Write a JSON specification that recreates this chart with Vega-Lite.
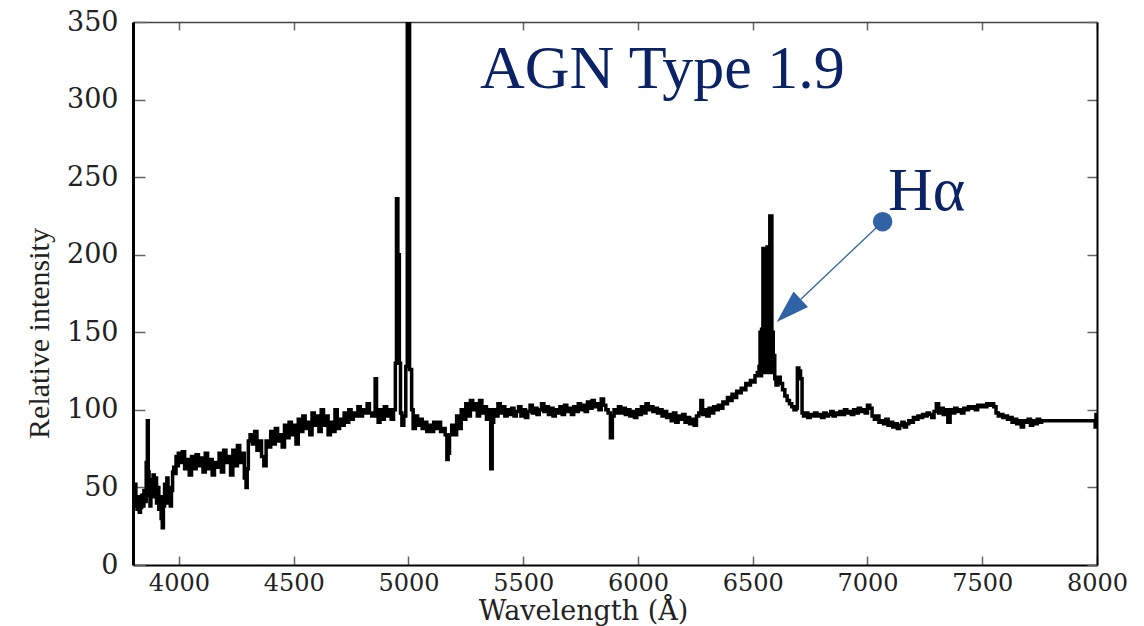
{
  "$schema": "https://vega.github.io/schema/vega-lite/v6.json",
  "width": 964,
  "height": 543,
  "autosize": {"type": "none"},
  "padding": {"left": 133, "top": 22, "right": 47, "bottom": 61},
  "background": "white",
  "config": {"view": {"stroke": null}},
  "datasets": {
    "spec": [
      {"w":3800,"i":48},{"w":3805,"i":40},{"w":3810,"i":52},{"w":3815,"i":38},{"w":3820,"i":36},{"w":3825,"i":44},{"w":3830,"i":34},{"w":3835,"i":37},{"w":3840,"i":45},{"w":3845,"i":38},{"w":3850,"i":48},{"w":3855,"i":41},{"w":3860,"i":66},{"w":3865,"i":93},{"w":3868,"i":60},{"w":3872,"i":45},{"w":3876,"i":38},{"w":3880,"i":55},{"w":3885,"i":44},{"w":3890,"i":58},{"w":3895,"i":48},{"w":3900,"i":56},{"w":3905,"i":40},{"w":3910,"i":50},{"w":3915,"i":36},{"w":3920,"i":44},{"w":3925,"i":30},{"w":3930,"i":24},{"w":3935,"i":38},{"w":3940,"i":52},{"w":3945,"i":40},{"w":3950,"i":56},{"w":3955,"i":42},{"w":3960,"i":50},{"w":3965,"i":38},{"w":3970,"i":48},{"w":3975,"i":60},{"w":3980,"i":63},{"w":3985,"i":59},{"w":3990,"i":70},{"w":3995,"i":64},
      {"w":4000,"i":72},{"w":4010,"i":66},{"w":4020,"i":73},{"w":4030,"i":62},{"w":4040,"i":68},{"w":4050,"i":58},{"w":4060,"i":70},{"w":4070,"i":62},{"w":4080,"i":71},{"w":4090,"i":64},{"w":4100,"i":69},{"w":4110,"i":60},{"w":4120,"i":72},{"w":4130,"i":62},{"w":4140,"i":68},{"w":4150,"i":58},{"w":4160,"i":66},{"w":4170,"i":63},{"w":4180,"i":72},{"w":4190,"i":60},{"w":4200,"i":74},{"w":4210,"i":66},{"w":4220,"i":70},{"w":4230,"i":58},{"w":4240,"i":74},{"w":4250,"i":64},{"w":4260,"i":77},{"w":4270,"i":66},{"w":4280,"i":72},{"w":4290,"i":56},{"w":4295,"i":50},{"w":4300,"i":62},{"w":4305,"i":80},{"w":4315,"i":84},{"w":4325,"i":78},{"w":4335,"i":86},{"w":4345,"i":74},{"w":4355,"i":80},{"w":4365,"i":70},{"w":4375,"i":64},{"w":4385,"i":80},{"w":4395,"i":76},
      {"w":4405,"i":86},{"w":4415,"i":78},{"w":4425,"i":88},{"w":4435,"i":80},{"w":4445,"i":84},{"w":4455,"i":76},{"w":4465,"i":90},{"w":4475,"i":82},{"w":4485,"i":92},{"w":4495,"i":84},{"w":4505,"i":90},{"w":4515,"i":78},{"w":4525,"i":94},{"w":4535,"i":86},{"w":4545,"i":96},{"w":4555,"i":88},{"w":4565,"i":92},{"w":4575,"i":84},{"w":4585,"i":98},{"w":4595,"i":90},{"w":4605,"i":96},{"w":4615,"i":86},{"w":4625,"i":100},{"w":4635,"i":90},{"w":4645,"i":96},{"w":4655,"i":84},{"w":4665,"i":92},{"w":4675,"i":86},{"w":4685,"i":100},{"w":4695,"i":88},{"w":4705,"i":94},{"w":4715,"i":90},{"w":4725,"i":98},{"w":4735,"i":92},{"w":4745,"i":100},{"w":4755,"i":94},{"w":4765,"i":98},{"w":4775,"i":96},{"w":4785,"i":102},{"w":4795,"i":96},
      {"w":4805,"i":100},{"w":4815,"i":98},{"w":4825,"i":104},{"w":4835,"i":98},{"w":4845,"i":96},{"w":4852,"i":98},{"w":4858,"i":120},{"w":4864,"i":96},{"w":4872,"i":92},{"w":4880,"i":100},{"w":4890,"i":94},{"w":4900,"i":102},{"w":4910,"i":96},{"w":4920,"i":100},{"w":4930,"i":94},{"w":4940,"i":100},{"w":4946,"i":130},{"w":4950,"i":236},{"w":4958,"i":200},{"w":4963,"i":130},{"w":4968,"i":98},{"w":4975,"i":90},{"w":4985,"i":96},{"w":4992,"i":128},{"w":4998,"i":400},{"w":5012,"i":126},{"w":5016,"i":100},{"w":5025,"i":88},{"w":5035,"i":96},{"w":5045,"i":90},{"w":5055,"i":94},{"w":5065,"i":88},{"w":5075,"i":92},{"w":5085,"i":86},{"w":5095,"i":90},
      {"w":5105,"i":86},{"w":5115,"i":92},{"w":5125,"i":88},{"w":5135,"i":92},{"w":5145,"i":86},{"w":5155,"i":88},{"w":5165,"i":84},{"w":5170,"i":68},{"w":5176,"i":72},{"w":5182,"i":84},{"w":5195,"i":90},{"w":5205,"i":84},{"w":5215,"i":96},{"w":5225,"i":88},{"w":5235,"i":100},{"w":5245,"i":94},{"w":5255,"i":104},{"w":5265,"i":96},{"w":5275,"i":106},{"w":5285,"i":100},{"w":5295,"i":104},{"w":5305,"i":96},{"w":5315,"i":106},{"w":5325,"i":98},{"w":5335,"i":102},{"w":5345,"i":94},{"w":5355,"i":100},{"w":5362,"i":62},{"w":5368,"i":92},{"w":5375,"i":100},{"w":5385,"i":96},{"w":5395,"i":104},
      {"w":5405,"i":98},{"w":5415,"i":102},{"w":5425,"i":96},{"w":5435,"i":100},{"w":5445,"i":97},{"w":5455,"i":101},{"w":5465,"i":96},{"w":5475,"i":99},{"w":5485,"i":102},{"w":5495,"i":96},{"w":5505,"i":100},{"w":5515,"i":95},{"w":5525,"i":99},{"w":5535,"i":103},{"w":5545,"i":98},{"w":5555,"i":101},{"w":5565,"i":97},{"w":5575,"i":100},{"w":5585,"i":104},{"w":5595,"i":99},{"w":5605,"i":102},{"w":5615,"i":97},{"w":5625,"i":101},{"w":5635,"i":96},{"w":5645,"i":100},{"w":5655,"i":98},{"w":5665,"i":102},{"w":5675,"i":97},{"w":5685,"i":103},{"w":5695,"i":99},
      {"w":5705,"i":101},{"w":5715,"i":97},{"w":5725,"i":102},{"w":5735,"i":99},{"w":5745,"i":104},{"w":5755,"i":100},{"w":5765,"i":103},{"w":5775,"i":99},{"w":5785,"i":105},{"w":5795,"i":101},{"w":5805,"i":106},{"w":5815,"i":102},{"w":5825,"i":104},{"w":5835,"i":100},{"w":5845,"i":107},{"w":5855,"i":103},{"w":5865,"i":100},{"w":5875,"i":98},{"w":5885,"i":82},{"w":5892,"i":96},{"w":5900,"i":100},{"w":5910,"i":98},{"w":5920,"i":102},{"w":5930,"i":98},{"w":5940,"i":101},{"w":5950,"i":97},{"w":5960,"i":100},{"w":5970,"i":96},{"w":5980,"i":99},{"w":5990,"i":95},
      {"w":6000,"i":100},{"w":6010,"i":97},{"w":6020,"i":102},{"w":6030,"i":98},{"w":6040,"i":104},{"w":6050,"i":100},{"w":6060,"i":102},{"w":6070,"i":99},{"w":6080,"i":101},{"w":6090,"i":98},{"w":6100,"i":100},{"w":6110,"i":96},{"w":6120,"i":99},{"w":6130,"i":95},{"w":6140,"i":97},{"w":6150,"i":93},{"w":6160,"i":98},{"w":6170,"i":92},{"w":6180,"i":96},{"w":6190,"i":94},{"w":6200,"i":97},{"w":6210,"i":92},{"w":6220,"i":95},{"w":6230,"i":91},{"w":6240,"i":94},{"w":6250,"i":90},{"w":6260,"i":96},{"w":6270,"i":98},{"w":6278,"i":106},{"w":6285,"i":97},{"w":6295,"i":100},
      {"w":6305,"i":96},{"w":6315,"i":101},{"w":6325,"i":98},{"w":6335,"i":102},{"w":6345,"i":100},{"w":6355,"i":103},{"w":6365,"i":101},{"w":6375,"i":105},{"w":6385,"i":104},{"w":6395,"i":108},{"w":6405,"i":106},{"w":6415,"i":110},{"w":6425,"i":108},{"w":6435,"i":112},{"w":6445,"i":111},{"w":6455,"i":114},{"w":6465,"i":113},{"w":6475,"i":117},{"w":6485,"i":116},{"w":6495,"i":119},{"w":6505,"i":118},{"w":6515,"i":122},{"w":6525,"i":124},{"w":6530,"i":128},{"w":6534,"i":150},{"w":6537,"i":122},{"w":6540,"i":152},{"w":6543,"i":124},{"w":6546,"i":204},{"w":6549,"i":126},{"w":6552,"i":200},{"w":6555,"i":128},{"w":6558,"i":152},{"w":6561,"i":124},{"w":6564,"i":205},{"w":6567,"i":126},{"w":6570,"i":150},{"w":6573,"i":124},{"w":6576,"i":225},{"w":6579,"i":128},{"w":6582,"i":225},{"w":6585,"i":126},{"w":6588,"i":150},{"w":6591,"i":124},{"w":6594,"i":135},{"w":6598,"i":120},
      {"w":6605,"i":116},{"w":6615,"i":121},{"w":6625,"i":117},{"w":6635,"i":113},{"w":6645,"i":109},{"w":6655,"i":106},{"w":6665,"i":104},{"w":6675,"i":102},{"w":6685,"i":100},{"w":6692,"i":101},{"w":6697,"i":127},{"w":6705,"i":125},{"w":6712,"i":120},{"w":6718,"i":98},{"w":6725,"i":96},{"w":6735,"i":98},{"w":6745,"i":95},{"w":6755,"i":97},{"w":6765,"i":96},{"w":6775,"i":98},{"w":6785,"i":96},{"w":6795,"i":97},{"w":6805,"i":95},{"w":6815,"i":98},{"w":6825,"i":96},{"w":6835,"i":97},{"w":6845,"i":99},{"w":6855,"i":96},{"w":6865,"i":98},{"w":6875,"i":97},{"w":6885,"i":99},{"w":6895,"i":97},
      {"w":6905,"i":100},{"w":6915,"i":98},{"w":6925,"i":99},{"w":6935,"i":97},{"w":6945,"i":100},{"w":6955,"i":98},{"w":6965,"i":101},{"w":6975,"i":99},{"w":6985,"i":100},{"w":6995,"i":98},{"w":7005,"i":103},{"w":7015,"i":101},{"w":7025,"i":96},{"w":7035,"i":94},{"w":7045,"i":96},{"w":7055,"i":92},{"w":7065,"i":93},{"w":7075,"i":91},{"w":7085,"i":94},{"w":7095,"i":90},{"w":7105,"i":92},{"w":7115,"i":89},{"w":7125,"i":91},{"w":7135,"i":88},{"w":7145,"i":90},{"w":7155,"i":92},{"w":7165,"i":89},{"w":7175,"i":91},{"w":7185,"i":93},{"w":7195,"i":92},
      {"w":7205,"i":95},{"w":7215,"i":94},{"w":7225,"i":96},{"w":7235,"i":95},{"w":7245,"i":97},{"w":7255,"i":96},{"w":7265,"i":98},{"w":7275,"i":97},{"w":7285,"i":95},{"w":7295,"i":99},{"w":7305,"i":104},{"w":7315,"i":98},{"w":7325,"i":101},{"w":7335,"i":97},{"w":7345,"i":100},{"w":7355,"i":92},{"w":7365,"i":100},{"w":7375,"i":98},{"w":7385,"i":101},{"w":7395,"i":99},{"w":7405,"i":100},{"w":7415,"i":98},{"w":7425,"i":101},{"w":7435,"i":100},{"w":7445,"i":102},{"w":7455,"i":101},{"w":7465,"i":102},{"w":7475,"i":100},{"w":7485,"i":103},{"w":7495,"i":102},
      {"w":7505,"i":103},{"w":7515,"i":102},{"w":7525,"i":104},{"w":7535,"i":103},{"w":7545,"i":104},{"w":7555,"i":102},{"w":7565,"i":98},{"w":7575,"i":96},{"w":7585,"i":97},{"w":7595,"i":95},{"w":7605,"i":96},{"w":7615,"i":94},{"w":7625,"i":95},{"w":7635,"i":92},{"w":7645,"i":94},{"w":7655,"i":91},{"w":7665,"i":93},{"w":7675,"i":89},{"w":7685,"i":93},{"w":7695,"i":92},{"w":7705,"i":94},{"w":7715,"i":90},{"w":7725,"i":93},{"w":7735,"i":91},{"w":7745,"i":94},{"w":7755,"i":92},{"w":7762,"i":93},{"w":7990,"i":93},{"w":7994,"i":89},{"w":7997,"i":97},{"w":8000,"i":93}
    ]
  },
  "resolve": {"axis": {"x": "independent", "y": "independent"}},
  "layer": [
    {
      "data": {"name": "spec"},
      "mark": {"type": "line", "interpolate": "step", "color": "black", "strokeWidth": 3.5, "clip": true},
      "encoding": {
        "x": {"field": "w", "type": "quantitative",
          "scale": {"domain": [3800, 8000], "nice": false, "zero": false},
          "axis": {"orient": "bottom", "values": [4000, 4500, 5000, 5500, 6000, 6500, 7000, 7500, 8000], "format": "d",
            "title": "Wavelength (Å)", "titleFont": "DejaVu Serif", "titleFontSize": 27, "titleFontWeight": "normal", "titleColor": "#222",
            "titleX": 450, "titleY": 54, "titleBaseline": "alphabetic", "titleAlign": "center",
            "labelFont": "DejaVu Serif", "labelFontSize": 24, "labelColor": "#222", "labelPadding": 15, "labelFlush": false, "labelOverlap": false,
            "tickSize": -9, "tickColor": "#666", "tickWidth": 1.5,
            "domainColor": "black", "domainWidth": 2, "grid": false}},
        "y": {"field": "i", "type": "quantitative",
          "scale": {"domain": [0, 350], "nice": false},
          "axis": {"orient": "left", "values": [0, 50, 100, 150, 200, 250, 300, 350], "format": "d",
            "title": "Relative intensity", "titleFont": "Liberation Serif", "titleFontSize": 30, "titleFontWeight": "normal", "titleColor": "#222",
            "titleX": -85, "titleY": 311, "titleAngle": -90, "titleBaseline": "alphabetic", "titleAlign": "center",
            "labelFont": "DejaVu Serif", "labelFontSize": 27, "labelColor": "#222", "labelPadding": 27, "labelFlush": false, "labelOverlap": false,
            "tickSize": -12, "tickColor": "#666", "tickWidth": 1.5,
            "domainColor": "black", "domainWidth": 3, "grid": false}}
      }
    },
    {
      "data": {"values": [{}]},
      "mark": {"type": "rule", "color": "#3062a6", "strokeWidth": 1.3},
      "encoding": {
        "x": {"datum": 7066, "type": "quantitative", "scale": {"domain": [3800, 8000], "nice": false, "zero": false},
          "axis": {"orient": "top", "values": [4000, 4500, 5000, 5500, 6000, 6500, 7000, 7500, 8000], "labels": false, "title": null,
            "tickSize": -8, "tickColor": "#666", "tickWidth": 1.5, "domainColor": "#444", "domainWidth": 1.5, "grid": false}},
        "y": {"datum": 221.3, "type": "quantitative", "scale": {"domain": [0, 350], "nice": false},
          "axis": {"orient": "right", "values": [0, 50, 100, 150, 200, 250, 300, 350], "labels": false, "title": null,
            "tickSize": -10, "tickColor": "#666", "tickWidth": 1.5, "domainColor": "black", "domainWidth": 2, "grid": false}},
        "x2": {"datum": 6709.5},
        "y2": {"datum": 171.3}
      }
    },
    {
      "data": {"values": [{}]},
      "mark": {"type": "point", "shape": "circle", "filled": true, "color": "#3062a6", "size": 380, "opacity": 1},
      "encoding": {
        "x": {"datum": 7066, "type": "quantitative", "axis": null},
        "y": {"datum": 221.3, "type": "quantitative", "axis": null}
      }
    },
    {
      "data": {"values": [{}]},
      "mark": {"type": "point", "shape": "M0,-1L0.64,1L-0.64,1Z", "filled": true, "color": "#3062a6", "size": 1089, "angle": 226.7, "opacity": 1},
      "encoding": {
        "x": {"datum": 6657, "type": "quantitative", "axis": null},
        "y": {"datum": 164.0, "type": "quantitative", "axis": null}
      }
    },
    {
      "data": {"values": [{}]},
      "mark": {"type": "text", "text": "AGN Type 1.9", "font": "Liberation Serif", "fontSize": 62, "color": "#0a2266", "align": "left", "baseline": "alphabetic"},
      "encoding": {
        "x": {"datum": 5312, "type": "quantitative", "axis": null},
        "y": {"datum": 307.3, "type": "quantitative", "axis": null}
      }
    },
    {
      "data": {"values": [{}]},
      "mark": {"type": "text", "text": "Hα", "font": "Liberation Serif", "fontSize": 62, "color": "#0a2266", "align": "left", "baseline": "alphabetic"},
      "encoding": {
        "x": {"datum": 7089, "type": "quantitative", "axis": null},
        "y": {"datum": 228.8, "type": "quantitative", "axis": null}
      }
    }
  ]
}
